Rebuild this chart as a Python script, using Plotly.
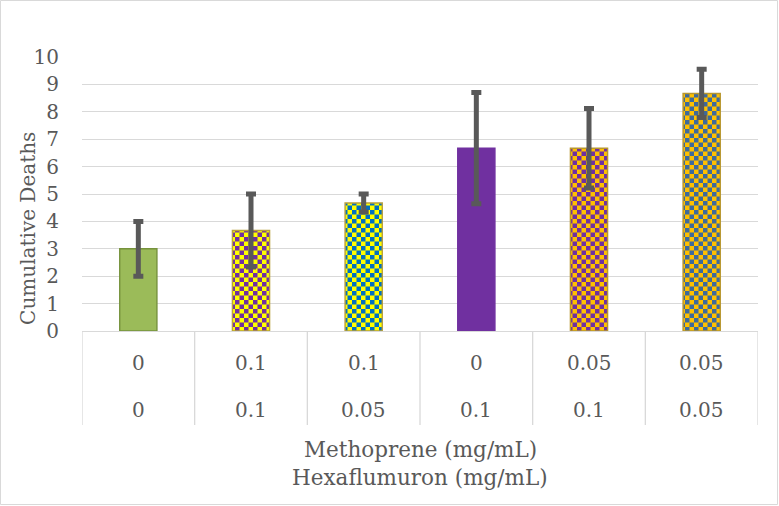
import plotly.graph_objects as go

# ---- data ----
methoprene = ["0", "0.1", "0.1", "0", "0.05", "0.05"]
hexaflumuron = ["0", "0.1", "0.05", "0.1", "0.1", "0.05"]
deaths = [3.0, 3.67, 4.67, 6.67, 6.67, 8.67]
errors = [1.0, 1.33, 0.33, 2.03, 1.45, 0.88]

# ---- styles ----
base_colors = ["#9BBB59", "#FFFF00", "#FFFF00", "#7030A0", "#FFC000", "#FFC000"]
check_colors = [None, "#7030A0", "#0070C0", None, "#7030A0", "#3E6A9C"]
line_colors = ["#76923C", "#B8A03A", "#B8A03A", "#7030A0", "#B8962E", "#B8962E"]

FONT = "DejaVu Serif"
GRAY = "#595959"
GRID = "#D9D9D9"

fig = go.Figure()
for i in range(len(deaths)):
    marker = dict(color=base_colors[i], line=dict(color=line_colors[i], width=1.4))
    if check_colors[i]:
        marker["pattern"] = dict(shape=".", bgcolor=base_colors[i],
                                 fgcolor=check_colors[i], size=9, solidity=0.5,
                                 fillmode="replace")
    fig.add_trace(go.Bar(
        x=[i], y=[deaths[i]], width=0.33, marker=marker,
        error_y=dict(type="data", array=[errors[i]], color=GRAY, thickness=5, width=5),
        showlegend=False, hoverinfo="skip"))

n = len(deaths)
shapes = []
for k in range(n + 1):
    shapes.append(dict(type="line", xref="x", yref="paper", x0=k - 0.5, x1=k - 0.5,
                       y0=0, y1=-0.343, line=dict(color=GRID, width=1.3)))
# outer chart border
shapes.append(dict(type="rect", xref="paper", yref="paper",
                   x0=-81.5 / 676, x1=695.5 / 676, y0=-173.5 / 274, y1=330.5 / 274,
                   line=dict(color=GRID, width=1), fillcolor="rgba(0,0,0,0)", layer="below"))

annotations = []
for i in range(n):
    annotations.append(dict(x=i, y=-0.117, xref="x", yref="paper", text=methoprene[i],
                            showarrow=False, yanchor="middle", font=dict(family=FONT, size=20, color=GRAY)))
    annotations.append(dict(x=i, y=-0.288, xref="x", yref="paper", text=hexaflumuron[i],
                            showarrow=False, yanchor="middle", font=dict(family=FONT, size=20, color=GRAY)))
annotations.append(dict(x=0.5, y=-0.431, xref="paper", yref="paper", text="Methoprene (mg/mL)",
                        showarrow=False, yanchor="middle", font=dict(family=FONT, size=21.5, color=GRAY)))
annotations.append(dict(x=0.5, y=-0.533, xref="paper", yref="paper", text="Hexaflumuron (mg/mL)",
                        showarrow=False, yanchor="middle", font=dict(family=FONT, size=21.5, color=GRAY)))
annotations.append(dict(x=-0.0808, y=0.374, xref="paper", yref="paper", text="Cumulative Deaths",
                        textangle=-90, showarrow=False, xanchor="center", yanchor="middle",
                        font=dict(family=FONT, size=20, color=GRAY)))

fig.update_layout(
    width=779, height=506,
    margin=dict(l=82, r=21, t=57, b=175, pad=0),
    paper_bgcolor="white", plot_bgcolor="white",
    barmode="overlay",
    xaxis=dict(range=[-0.5, n - 0.5], showticklabels=False, showgrid=False,
               zeroline=False, showline=False, fixedrange=True),
    yaxis=dict(range=[0, 10], dtick=1, tick0=0, showgrid=True, gridcolor=GRID, gridwidth=1.3,
               zeroline=True, zerolinecolor=GRID, zerolinewidth=1.3, showline=False,
               ticks="", ticklabelstandoff=22,
               tickfont=dict(family=FONT, size=20, color=GRAY)),
    shapes=shapes, annotations=annotations,
)

post = """
document.body.style.margin = '0';
document.body.style.overflow = 'hidden';
var gd = document.getElementById('{plot_id}');
var NS = 'http://www.w3.org/2000/svg';
gd.querySelectorAll('pattern').forEach(function(p){
  var c = p.querySelector('circle');
  if(!c) return;
  var w = parseFloat(p.getAttribute('width'));
  var fg = c.getAttribute('fill') || c.style.fill;
  c.parentNode.removeChild(c);
  [[0,0],[w/2,w/2]].forEach(function(o){
    var r = document.createElementNS(NS, 'rect');
    r.setAttribute('x', o[0]); r.setAttribute('y', o[1]);
    r.setAttribute('width', w/2); r.setAttribute('height', w/2);
    r.setAttribute('fill', fg);
    p.appendChild(r);
  });
});
"""

fig.write_html("out.html", post_script=post, config={"displayModeBar": False})
